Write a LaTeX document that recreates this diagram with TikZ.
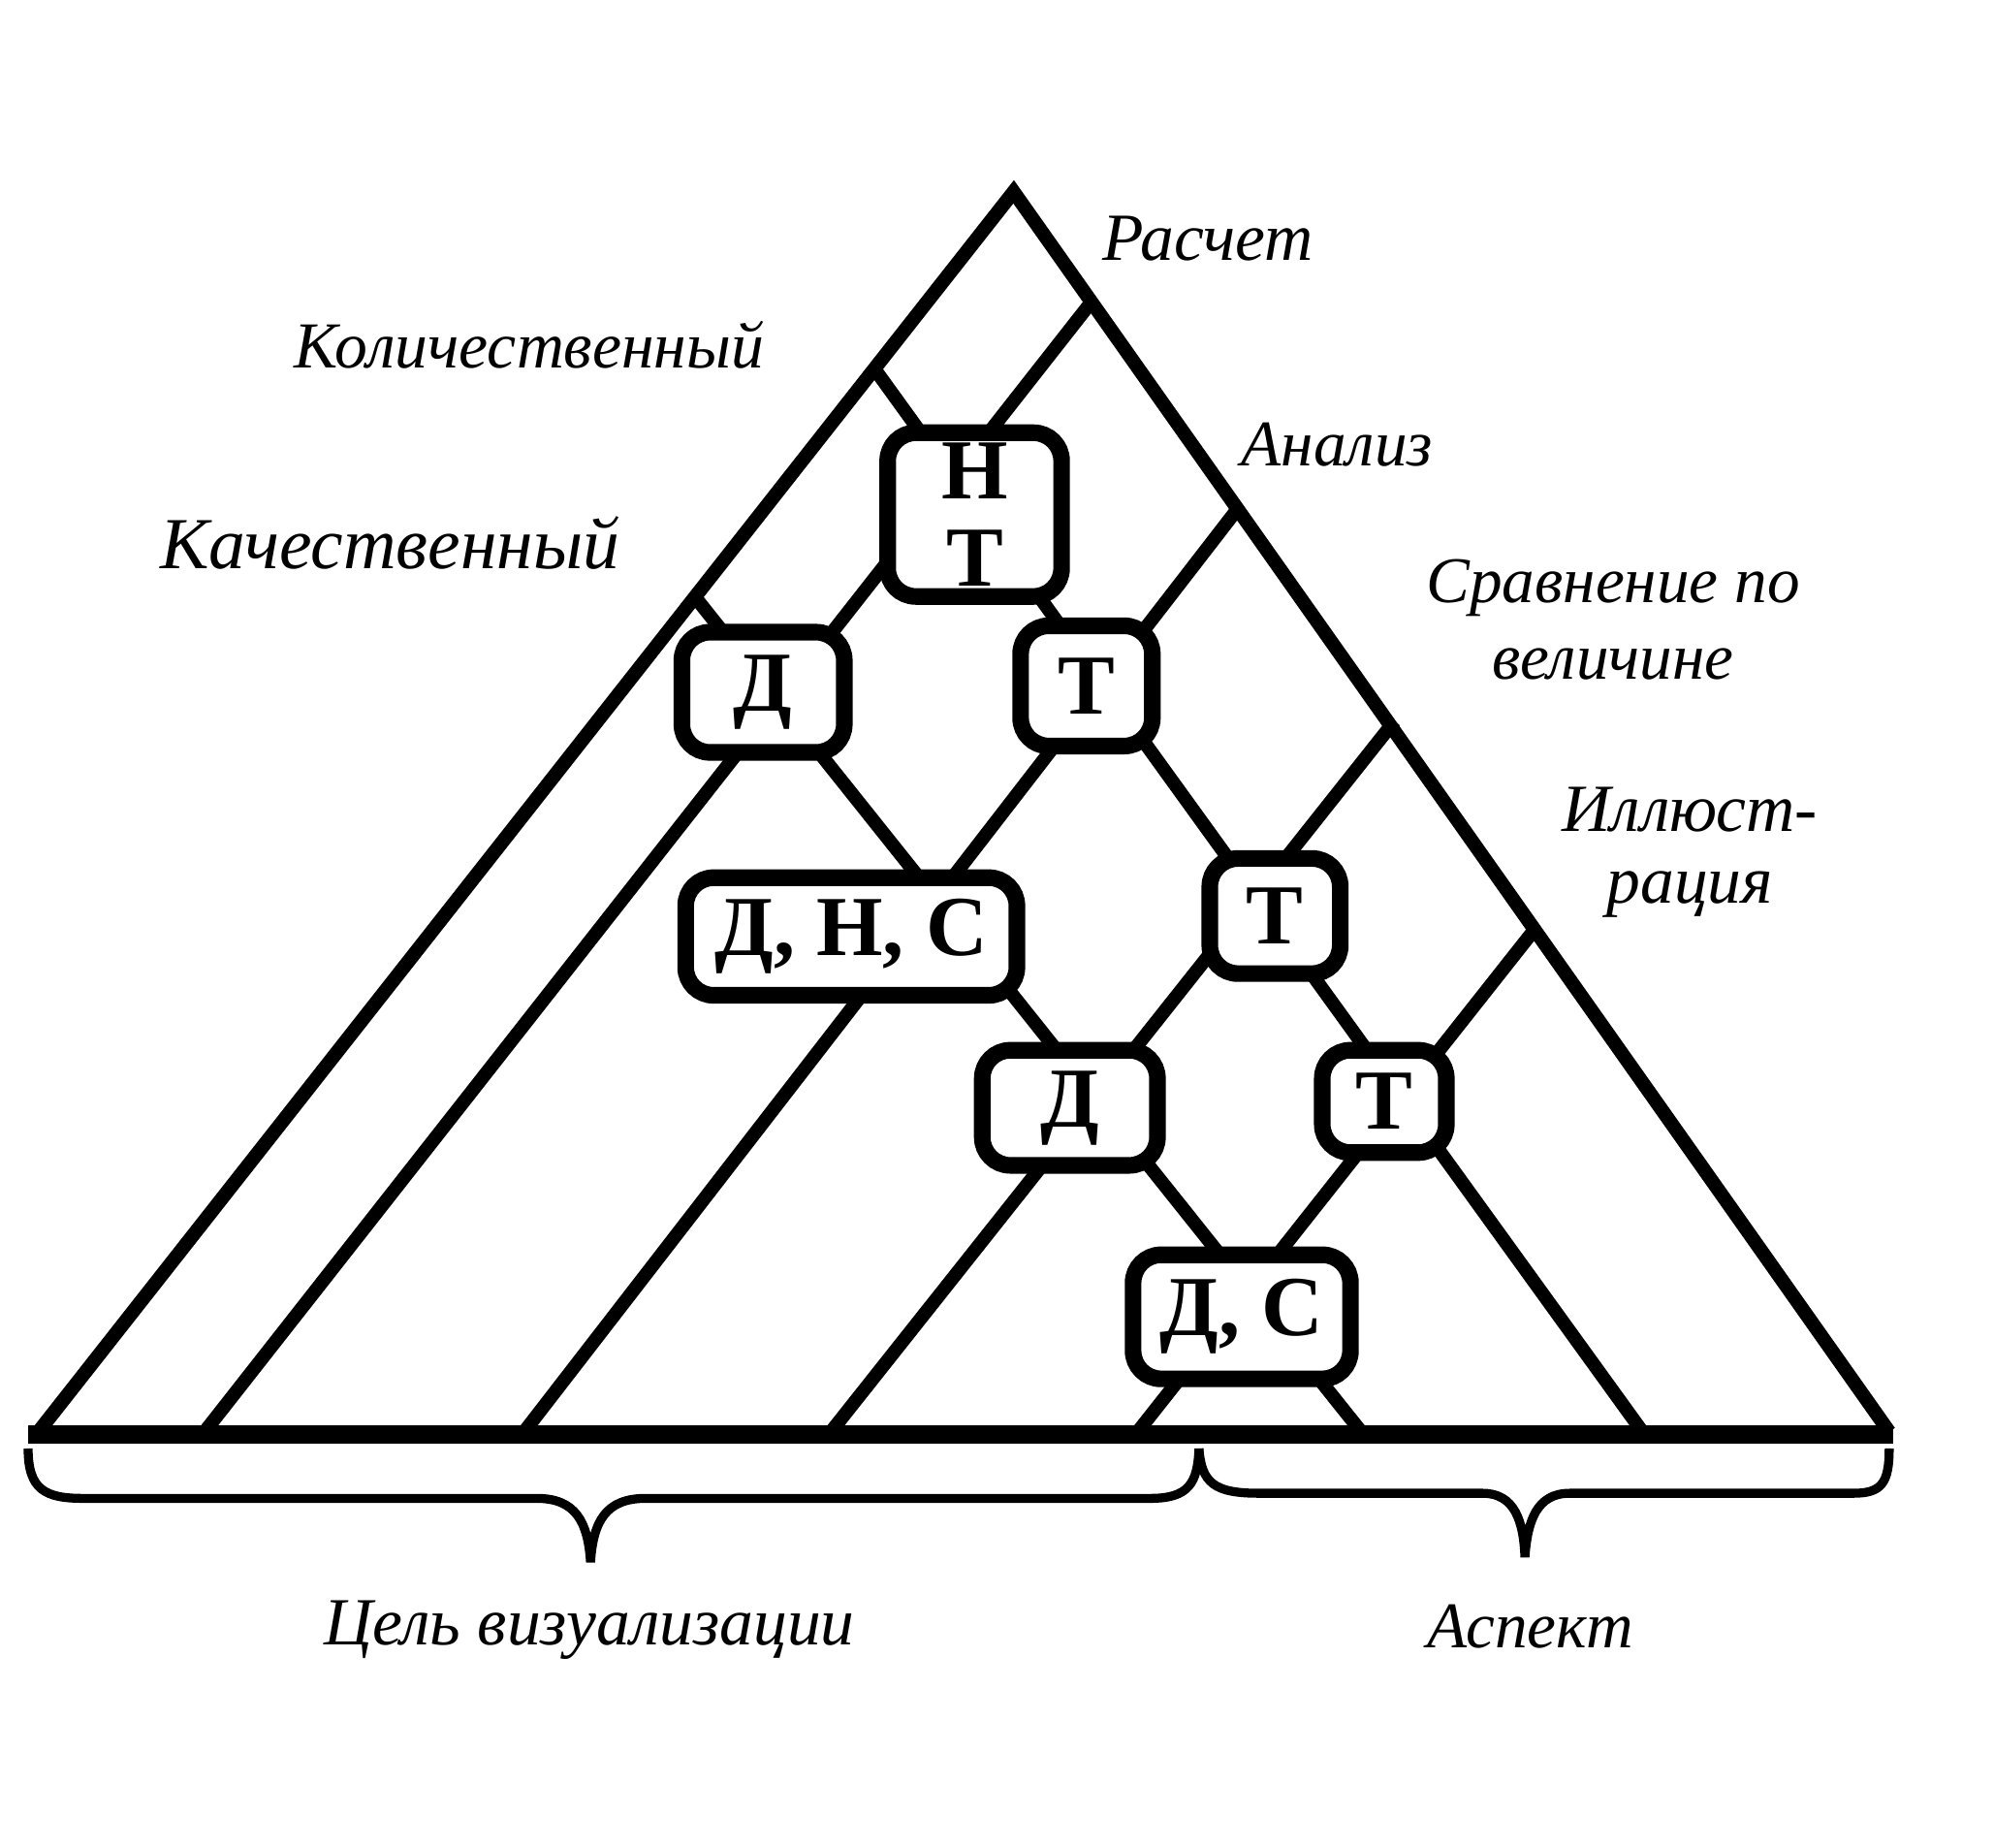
\documentclass[tikz,border=0pt]{standalone}
\usepackage{fontspec}
\setmainfont{Liberation Serif}
\begin{document}
\begin{tikzpicture}[x=0.01cm,y=-0.01cm,
  side/.style={line width=3.1pt, line join=miter},
  grid/.style={line width=3pt},
  basel/.style={line width=4pt},
  brace/.style={line width=2pt},
  box/.style={draw, line width=3.7pt, rounded corners=0.22cm, fill=white,
    inner sep=0pt, align=center, font=\fontsize{19}{19.5}\selectfont\bfseries},
  lab/.style={inner sep=0pt, align=center, font=\fontsize{15}{17}\selectfont\itshape}]
\useasboundingbox (0,0) rectangle (1560,1445);
% triangle corners and lattice ends
\coordinate (A) at (793,150);
\coordinate (BL) at (30,1120);
\coordinate (BR) at (1478,1120);
\coordinate (base0) at (22,1122);
\coordinate (base9) at (1481,1122);
\coordinate (l1b) at (160,1120); \coordinate (l1t) at (854,236);
\coordinate (l2b) at (410,1120); \coordinate (l2t) at (969,397);
\coordinate (l3b) at (650,1120); \coordinate (l3t) at (1091,564);
\coordinate (l4b) at (890,1120); \coordinate (l4t) at (1199,729);
\coordinate (r1t) at (686,291); \coordinate (r1b) at (1285,1120);
\coordinate (r2t) at (543,466); \coordinate (r2b) at (1065,1120);
% lattice lines
\draw[grid] (l1b) -- (l1t);
\draw[grid] (l2b) -- (l2t);
\draw[grid] (l3b) -- (l3t);
\draw[grid] (l4b) -- (l4t);
\draw[grid] (r1t) -- (r1b);
\draw[grid] (r2t) -- (r2b);
% triangle
\draw[side] (BL) -- (A) -- (BR);
\draw[basel] (base0) -- (base9);
% boxes
\node[box, minimum width=1.36cm, minimum height=1.28cm] (NT) at (762.5,402.5) {Н\\Т};
\node[box, minimum width=1.27cm, minimum height=0.94cm] (D1) at (597,541.5) {Д};
\node[box, minimum width=1.03cm, minimum height=0.94cm] (T1) at (850,536.5) {Т};
\node[box, minimum width=2.59cm, minimum height=0.92cm] (DNS) at (666,732.5) {Д, Н, С};
\node[box, minimum width=1.02cm, minimum height=0.90cm] (T2) at (997.5,716.5) {Т};
\node[box, minimum width=1.37cm, minimum height=0.90cm] (D2) at (837,866.5) {Д};
\node[box, minimum width=0.97cm, minimum height=0.80cm] (T3) at (1083,861.5) {Т};
\node[box, minimum width=1.70cm, minimum height=0.97cm] (DS) at (971.5,1030) {Д, С};
% braces
\draw[brace] (22,1133) .. controls (22,1165) and (35,1172) .. (65,1172) -- (420,1172)
  .. controls (450,1172) and (460,1190) .. (462,1222)
  .. controls (464,1190) and (474,1172) .. (505,1172) -- (900,1172)
  .. controls (930,1172) and (937,1160) .. (938,1133);
\draw[brace] (938,1133) .. controls (940,1160) and (950,1168) .. (985,1168) -- (1160,1168)
  .. controls (1185,1168) and (1192,1190) .. (1193,1218)
  .. controls (1195,1190) and (1202,1168) .. (1228,1168) -- (1450,1168)
  .. controls (1472,1168) and (1478,1160) .. (1478,1133);
% labels
\node[lab] (ras) at (945,187) {Расчет};
\node[lab, font=\fontsize{14.6}{17}\selectfont\itshape] (kol) at (414,270) {Количественный};
\node[lab, font=\fontsize{14.5}{17}\selectfont\itshape] (ana) at (1046,348) {Анализ};
\node[lab, font=\fontsize{16.3}{20}\selectfont\itshape] (kach) at (305,425) {Качественный};
\node[lab, font=\fontsize{14.5}{17}\selectfont\itshape] (srav) at (1262,485) {Сравнение по\\[0pt]величине};
\node[lab] (ill) at (1322,667) {Иллюст-\\[-1pt]рация};
\node[lab] (cel) at (461,1275) {Цель визуализации};
\node[lab, font=\fontsize{14.5}{17}\selectfont\itshape] (asp) at (1197,1272) {Аспект};
\end{tikzpicture}
\end{document}
